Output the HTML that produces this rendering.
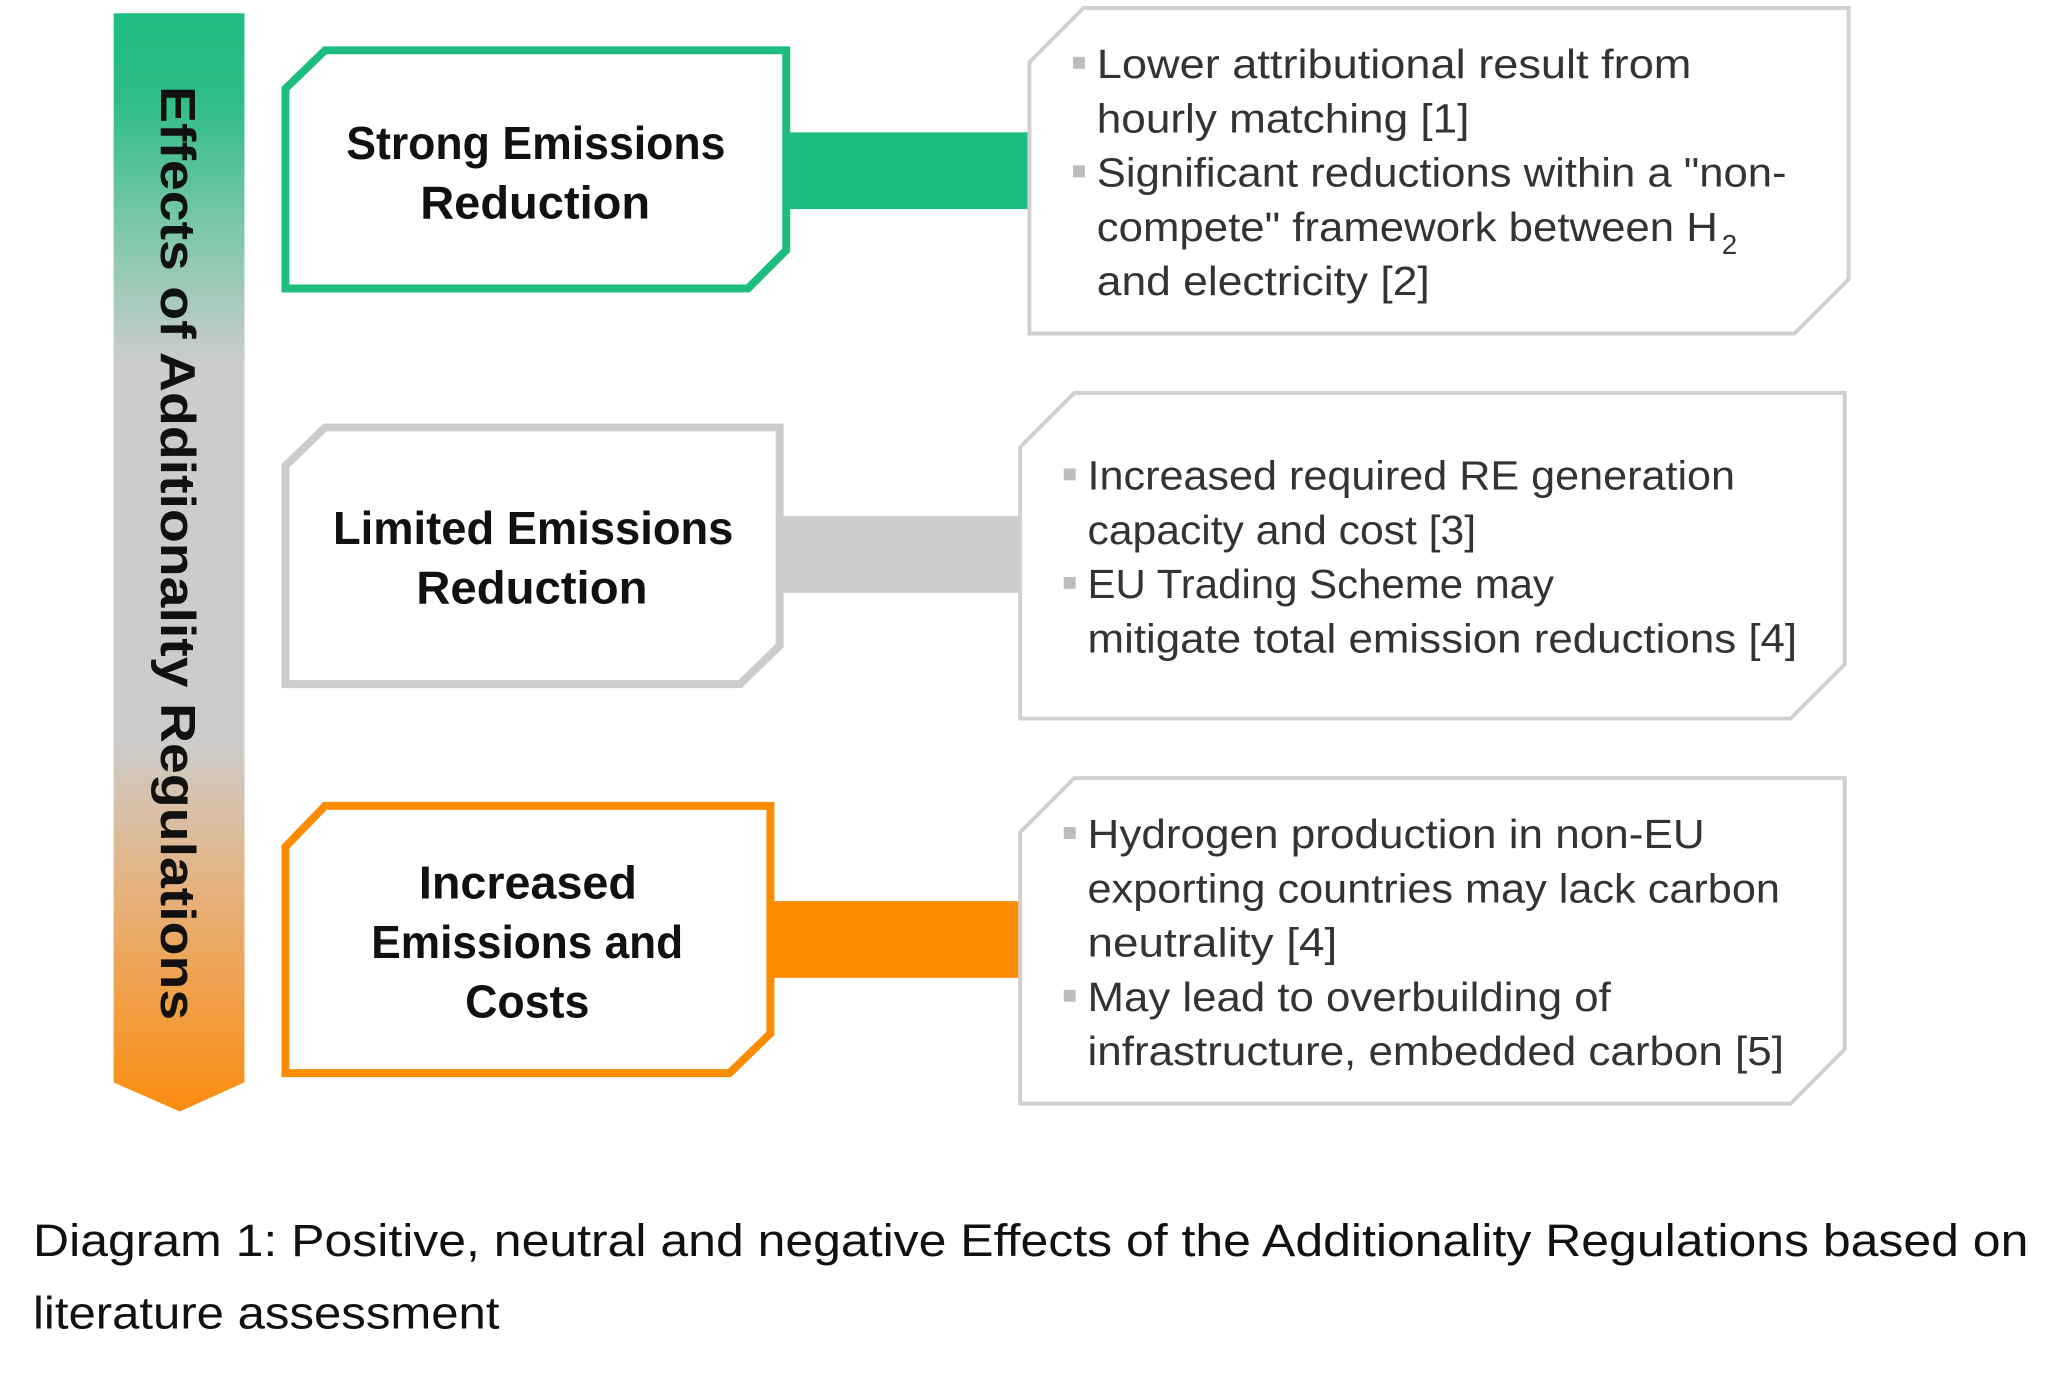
<!DOCTYPE html>
<html><head><meta charset="utf-8"><style>
html,body{margin:0;padding:0;background:#fff;}
svg{display:block;}
</style></head><body>
<svg width="2072" height="1400" viewBox="0 0 1568 1058" preserveAspectRatio="none" xmlns="http://www.w3.org/2000/svg">
<defs>
<linearGradient id="g" x1="0" y1="0" x2="0" y2="1">
<stop offset="0" stop-color="#1dbd80"/>
<stop offset="0.08" stop-color="#2fbd86"/>
<stop offset="0.2" stop-color="#7fc8aa"/>
<stop offset="0.32" stop-color="#cccccc"/>
<stop offset="0.66" stop-color="#cccccc"/>
<stop offset="0.8" stop-color="#e6b17c"/>
<stop offset="1" stop-color="#fb8c0f"/>
</linearGradient>
</defs>
<rect width="1568" height="1058" fill="#fff"/>
<polygon points="86,10 185,10 185,818 136,840 86,818" fill="url(#g)"/>
<text x="135" y="418" transform="rotate(90 135 418)" text-anchor="middle" dy="13" font-family="Liberation Sans, sans-serif" font-weight="bold" font-size="37" fill="#111" textLength="706" lengthAdjust="spacingAndGlyphs">Effects of Additionality Regulations</text>

<!-- connectors -->
<rect x="596" y="100" width="184" height="58" fill="#1dbd80"/>
<rect x="591" y="390" width="182" height="58" fill="#cccccc"/>
<rect x="584" y="681" width="188" height="58" fill="#fb8c00"/>

<!-- left boxes -->
<polygon points="246,38 595,38 595,189 566,218 216,218 216,67" fill="#fff" stroke="#1dbd80" stroke-width="6"/>
<polygon points="246,323 590,323 590,488 560,517 216,517 216,352" fill="#fff" stroke="#cccccc" stroke-width="6"/>
<polygon points="246,609 583,609 583,781 552,811 216,811 216,640" fill="#fff" stroke="#fb8c00" stroke-width="6"/>

<g font-family="Liberation Sans, sans-serif" font-weight="bold" font-size="35" fill="#111" lengthAdjust="spacingAndGlyphs">
<text x="262" y="120" textLength="287" lengthAdjust="spacingAndGlyphs">Strong Emissions</text>
<text x="318" y="165" textLength="174" lengthAdjust="spacingAndGlyphs">Reduction</text>
<text x="252" y="411" textLength="303" lengthAdjust="spacingAndGlyphs">Limited Emissions</text>
<text x="315" y="456" textLength="175" lengthAdjust="spacingAndGlyphs">Reduction</text>
<text x="317" y="679" textLength="165" lengthAdjust="spacingAndGlyphs">Increased</text>
<text x="281" y="724" textLength="236" lengthAdjust="spacingAndGlyphs">Emissions and</text>
<text x="352" y="769" textLength="94" lengthAdjust="spacingAndGlyphs">Costs</text>
</g>

<!-- right boxes -->
<polygon points="820,6 1399,6 1399,211 1358,252 779,252 779,47" fill="#fff" stroke="#d0d0d0" stroke-width="3"/>
<polygon points="813,297 1396,297 1396,502 1355,543 772,543 772,338" fill="#fff" stroke="#d0d0d0" stroke-width="3"/>
<polygon points="813,588 1396,588 1396,793 1355,834 772,834 772,629" fill="#fff" stroke="#d0d0d0" stroke-width="3"/>

<g fill="#bdbdbd">
<rect x="812" y="43" width="9" height="9"/>
<rect x="812" y="125" width="9" height="9"/>
<rect x="805" y="354" width="9" height="9"/>
<rect x="805" y="436" width="9" height="9"/>
<rect x="805" y="625" width="9" height="9"/>
<rect x="805" y="748" width="9" height="9"/>
</g>

<g font-family="Liberation Sans, sans-serif" font-size="31" fill="#333">
<text x="830" y="59" textLength="450" lengthAdjust="spacingAndGlyphs">Lower attributional result from</text>
<text x="830" y="100" textLength="282" lengthAdjust="spacingAndGlyphs">hourly matching [1]</text>
<text x="830" y="141" textLength="522" lengthAdjust="spacingAndGlyphs">Significant reductions within a "non-</text>
<text x="830" y="182" textLength="470" lengthAdjust="spacingAndGlyphs">compete" framework between H</text>
<text x="1303" y="192" font-size="21">2</text>
<text x="830" y="223" textLength="252" lengthAdjust="spacingAndGlyphs">and electricity [2]</text>

<text x="823" y="370" textLength="490" lengthAdjust="spacingAndGlyphs">Increased required RE generation</text>
<text x="823" y="411" textLength="294" lengthAdjust="spacingAndGlyphs">capacity and cost [3]</text>
<text x="823" y="452" textLength="353" lengthAdjust="spacingAndGlyphs">EU Trading Scheme may</text>
<text x="823" y="493" textLength="537" lengthAdjust="spacingAndGlyphs">mitigate total emission reductions [4]</text>

<text x="823" y="641" textLength="467" lengthAdjust="spacingAndGlyphs">Hydrogen production in non-EU</text>
<text x="823" y="682" textLength="524" lengthAdjust="spacingAndGlyphs">exporting countries may lack carbon</text>
<text x="823" y="723" textLength="189" lengthAdjust="spacingAndGlyphs">neutrality [4]</text>
<text x="823" y="764" textLength="396" lengthAdjust="spacingAndGlyphs">May lead to overbuilding of</text>
<text x="823" y="805" textLength="527" lengthAdjust="spacingAndGlyphs">infrastructure, embedded carbon [5]</text>
</g>

<g font-family="Liberation Sans, sans-serif" font-size="34" fill="#111">
<text x="25" y="949" textLength="1510" lengthAdjust="spacingAndGlyphs">Diagram 1: Positive, neutral and negative Effects of the Additionality Regulations based on</text>
<text x="25" y="1004" textLength="353" lengthAdjust="spacingAndGlyphs">literature assessment</text>
</g>
</svg>
</body></html>
